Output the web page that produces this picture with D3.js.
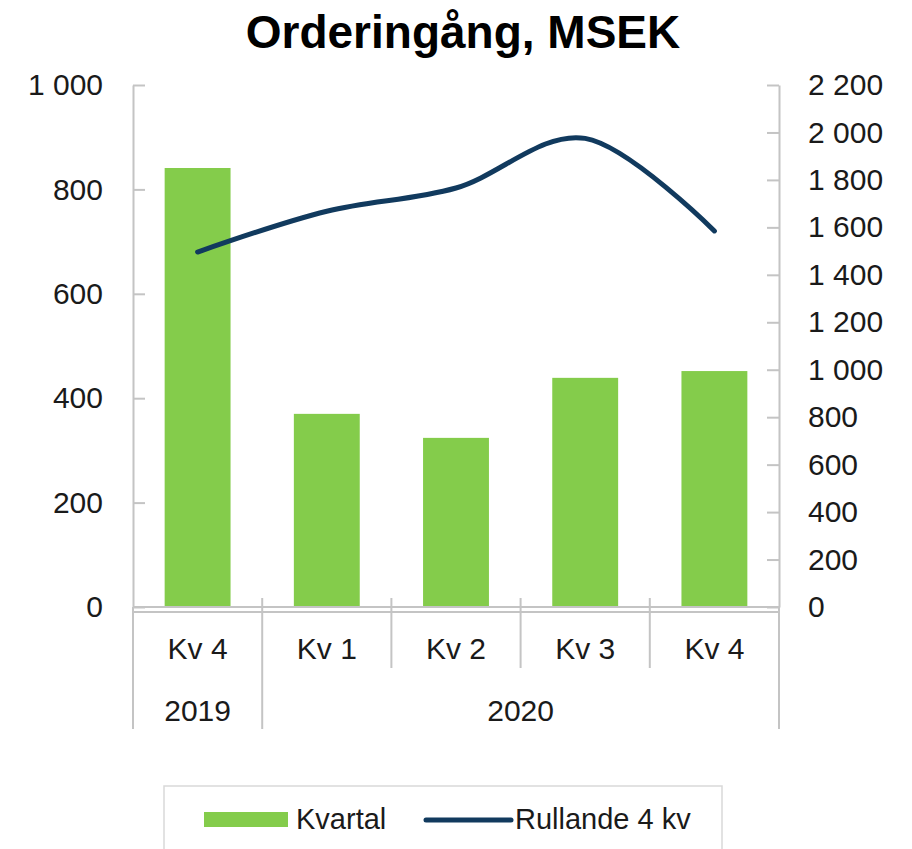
<!DOCTYPE html>
<html>
<head>
<meta charset="utf-8">
<script src="https://cdn.jsdelivr.net/npm/d3@7"></script>
<style>
  body { margin: 0; background: #fff; }
  svg { display: block; font-family: "Liberation Sans", Arial, sans-serif; }
</style>
</head>
<body>
<svg id="chart" width="912" height="849"></svg>
<script>
// data
const quarters = ["Kv 4", "Kv 1", "Kv 2", "Kv 3", "Kv 4"];
const years = [{ label: "2019", from: 0, to: 1 }, { label: "2020", from: 1, to: 5 }];
const kvartal = [841, 370, 324, 439, 452];
const rullande = [1496, 1668, 1766, 1975, 1585];
const leftTicks = [0, 200, 400, 600, 800, 1000];
const rightTicks = [0, 200, 400, 600, 800, 1000, 1200, 1400, 1600, 1800, 2000, 2200];

const svg = d3.select("#chart");
const W = 912, H = 849;
const plotL = 133, plotR = 779, plotT = 85, plotB = 607;
const green = "#84CC4B", navy = "#113A5E", grey = "#C4C4C4", ink = "#1A1A1A";

const fmt = d3.formatLocale({ decimal: ",", thousands: " ", grouping: [3], currency: ["", ""] }).format(",d");

const idx = quarters.map((d, i) => i);
const x = d3.scaleBand().domain(idx).range([plotL, plotR]).paddingInner(0.49).paddingOuter(0.245);
const xCat = d3.scaleBand().domain(idx).range([plotL, plotR]);
const yL = d3.scaleLinear().domain([0, 1000]).range([plotB, plotT]);
const yR = d3.scaleLinear().domain([0, 2200]).range([plotB, plotT]);

// title
svg.append("text").attr("x", W / 2 + 7).attr("y", 48)
  .attr("text-anchor", "middle").attr("font-size", 46).attr("font-weight", "bold")
  .attr("fill", "#000").text("Orderingång, MSEK");

// bars
svg.append("g").selectAll("rect").data(kvartal).join("rect")
  .attr("x", (d, i) => x(i)).attr("width", x.bandwidth())
  .attr("y", d => yL(d)).attr("height", d => yL(0) - yL(d))
  .attr("fill", green);

// axes
const axL = svg.append("g").attr("transform", `translate(${plotL},0)`)
  .call(d3.axisLeft(yL).tickValues(leftTicks).tickFormat(fmt).tickSizeInner(-12).tickSizeOuter(0).tickPadding(30));
const axR = svg.append("g").attr("transform", `translate(${plotR},0)`)
  .call(d3.axisRight(yR).tickValues(rightTicks).tickFormat(fmt).tickSizeInner(-12).tickSizeOuter(0).tickPadding(29));
[axL, axR].forEach(g => {
  g.selectAll("path, line").attr("stroke", grey).attr("stroke-width", 2);
  g.selectAll("text").attr("font-size", 30).attr("fill", ink).attr("font-family", "Liberation Sans, Arial, sans-serif");
});

// category axis
const cat = svg.append("g").attr("stroke", grey).attr("stroke-width", 2);
cat.append("line").attr("x1", plotL).attr("x2", plotR).attr("y1", plotB).attr("y2", plotB);
cat.append("line").attr("x1", plotL).attr("x2", plotR).attr("y1", plotB + 5).attr("y2", plotB + 5);
const bounds = d3.range(quarters.length + 1).map(i => i < quarters.length ? xCat(i) : plotR);
const yearEdges = new Set(years.flatMap(y => [y.from, y.to]));
bounds.forEach((bx, i) => {
  const outer = i === 0 || i === quarters.length;
  cat.append("line").attr("x1", bx).attr("x2", bx)
    .attr("y1", outer ? plotB : plotB - 9)
    .attr("y2", yearEdges.has(i) ? 729 : 668);
});
svg.append("g").selectAll("text").data(quarters).join("text")
  .attr("x", (d, i) => xCat(i) + xCat.bandwidth() / 2).attr("y", 648).attr("dy", "0.35em")
  .attr("text-anchor", "middle").attr("font-size", 30).attr("fill", ink).text(d => d);
svg.append("g").selectAll("text").data(years).join("text")
  .attr("x", d => (bounds[d.from] + bounds[d.to]) / 2).attr("y", 710).attr("dy", "0.35em")
  .attr("text-anchor", "middle").attr("font-size", 30).attr("fill", ink).text(d => d.label);

// rolling line
const line = d3.line()
  .x((d, i) => x(i) + x.bandwidth() / 2).y(d => yR(d))
  .curve(d3.curveCatmullRom.alpha(0));
svg.append("path").datum(rullande).attr("d", line)
  .attr("fill", "none").attr("stroke", navy).attr("stroke-width", 5).attr("stroke-linecap", "round");

// legend
const lg = svg.append("g");
lg.append("rect").attr("x", 164).attr("y", 786).attr("width", 558).attr("height", 80)
  .attr("fill", "none").attr("stroke", "#D9D9D9").attr("stroke-width", 1.5);
lg.append("rect").attr("x", 204).attr("y", 812).attr("width", 84).attr("height", 15).attr("fill", green);
lg.append("text").attr("x", 296).attr("y", 819).attr("dy", "0.35em").attr("font-size", 29).attr("fill", ink).text("Kvartal");
lg.append("line").attr("x1", 426).attr("x2", 511).attr("y1", 820).attr("y2", 820)
  .attr("stroke", navy).attr("stroke-width", 5).attr("stroke-linecap", "round");
lg.append("text").attr("x", 515).attr("y", 819).attr("dy", "0.35em").attr("font-size", 29).attr("fill", ink).text("Rullande 4 kv");
</script>
</body>
</html>
